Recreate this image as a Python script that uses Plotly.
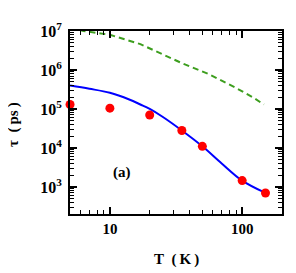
import plotly.graph_objects as go

# data
T_exp = [5, 10, 20, 35, 50, 100, 150]
tau_exp = [1.3e5, 1.05e5, 7.0e4, 2.8e4, 1.1e4, 1.45e3, 7.0e2]

T_fit = [5, 7, 10, 14, 17, 20, 25, 35, 50, 70, 100, 150]
tau_fit = [4.0e5, 3.3e5, 2.6e5, 1.75e5, 1.3e5, 1.0e5, 6.3e4, 2.8e4, 1.1e4, 4.0e3, 1.45e3, 7.0e2]

T_th = [5, 6.3, 10, 17, 35, 55, 88, 120, 146]
tau_th = [1.25e7, 1.0e7, 8.0e6, 4.6e6, 1.5e6, 8.0e5, 3.6e5, 2.0e5, 1.3e5]

x_ticks = [10, 100]
x_ticktext = ["<b>10</b>", "<b>100</b>"]
y_ticks = [1e3, 1e4, 1e5, 1e6, 1e7]
y_ticktext = ["<b>10<sup>3</sup></b>", "<b>10<sup>4</sup></b>", "<b>10<sup>5</sup></b>",
              "<b>10<sup>6</sup></b>", "<b>10<sup>7</sup></b>"]

x_minor = [6, 7, 8, 9] + [20, 30, 40, 50, 60, 70, 80, 90] + [200]
y_minor = [m * 10 ** e for e in [2, 3, 4, 5, 6] for m in range(2, 10) if m * 10 ** e > 200]

fig = go.Figure()
fig.add_trace(go.Scatter(x=T_th, y=tau_th, mode="lines",
                         line=dict(color="#3d9e1e", width=2, dash="6px,4px"),
                         showlegend=False))
fig.add_trace(go.Scatter(x=T_fit, y=tau_fit, mode="lines",
                         line=dict(color="#0000ff", width=2, shape="spline"),
                         showlegend=False))
fig.add_trace(go.Scatter(x=T_exp, y=tau_exp, mode="markers",
                         marker=dict(color="#ff0000", size=9),
                         cliponaxis=False, showlegend=False))

family = "Liberation Serif, Times New Roman, serif"
font = dict(family=family, size=15, color="black")

# page body has an 8px default margin; size/margins compensate for it
fig.update_layout(
    width=288, height=265,
    margin=dict(l=62, r=12, t=15, b=59),
    paper_bgcolor="white", plot_bgcolor="white",
    font=font,
    xaxis=dict(type="log", range=[0.6985, 2.301],
               tickvals=x_ticks, ticktext=x_ticktext,
               tickfont=dict(family=family, size=15, color="black"),
               ticks="inside", ticklen=7, tickwidth=1.5, tickcolor="black",
               showline=True, linecolor="black", linewidth=2, mirror="allticks",
               showgrid=False, zeroline=False, ticklabelstandoff=0,
               minor=dict(tickvals=x_minor, ticks="inside", ticklen=4,
                          tickwidth=1.2, tickcolor="black", showgrid=False)),
    yaxis=dict(type="log", range=[2.305, 7],
               tickvals=y_ticks, ticktext=y_ticktext,
               tickfont=dict(family=family, size=16, color="black"),
               ticks="inside", ticklen=7, tickwidth=1.5, tickcolor="black",
               showline=True, linecolor="black", linewidth=2, mirror="allticks",
               showgrid=False, zeroline=False, ticklabelstandoff=3,
               minor=dict(tickvals=y_minor, ticks="inside", ticklen=4,
                          tickwidth=1.2, tickcolor="black", showgrid=False)),
    annotations=[
        dict(text="<b>T\u2002(\u2009K\u2009)</b>", xref="paper", yref="paper", x=0.5, y=-0.246,
             showarrow=False, font=font, yanchor="middle"),
        dict(text="<b>τ\u2002(\u2009ps\u2009)</b>", xref="paper", yref="paper", x=-0.266, y=0.49,
             showarrow=False, font=font, textangle=-90, xanchor="center"),
        dict(text="<b>(a)</b>", x=1.09, y=3.37, xref="x", yref="y",
             showarrow=False, font=font),
    ],
)
fig.write_html("out.html")
